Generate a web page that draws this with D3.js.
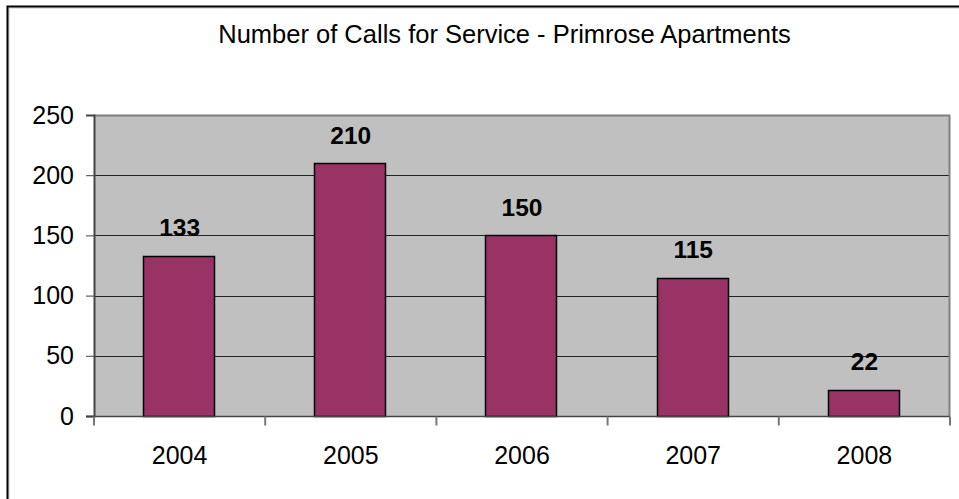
<!DOCTYPE html>
<html><head><meta charset="utf-8">
<script src="https://cdn.jsdelivr.net/npm/d3@7"></script>
<style>body{margin:0;background:#fff}svg{display:block}</style>
</head><body>
<svg id="c" width="959" height="499"></svg>
<script>
const title = "Number of Calls for Service - Primrose Apartments";
const categories = ["2004","2005","2006","2007","2008"];
const calls = [133, 210, 150, 115, 22];
const yTicks = [0, 50, 100, 150, 200, 250];

const svg = d3.select("#c");
const W = 959, H = 499;
const m = {l: 94, r: 959 - 950, t: 115, b: 499 - 416};
const font = "'Liberation Sans', Arial, sans-serif";

// outer chart border (cropped at right/bottom)
svg.append("rect").attr("x", 9).attr("y", 8).attr("width", 1000).attr("height", 1000)
  .attr("fill", "none").attr("stroke", "#c8c8c8").attr("stroke-width", 1);
svg.append("rect").attr("x", 7.5).attr("y", 6.5).attr("width", 1000).attr("height", 1000)
  .attr("fill", "none").attr("stroke", "#000").attr("stroke-width", 2);

const x = d3.scaleBand().domain(categories).range([m.l, W - m.r]).paddingInner(0.585).paddingOuter(0.2925);
const xb = d3.scaleBand().domain(categories).range([m.l, W - m.r]);
const y = d3.scaleLinear().domain([0, 250]).range([H - m.b, m.t]);

// plot area
svg.append("rect").attr("x", m.l).attr("y", m.t).attr("width", W - m.r - m.l).attr("height", H - m.b - m.t)
  .attr("fill", "#c0c0c0");

// gridlines
svg.append("g").selectAll("line").data(yTicks.filter(d => d > 0 && d < 250)).join("line")
  .attr("x1", m.l).attr("x2", W - m.r)
  .attr("y1", d => Math.round(y(d)) + 0.5).attr("y2", d => Math.round(y(d)) + 0.5)
  .attr("stroke", "#222").attr("stroke-width", 1);

// plot border top/right
svg.append("path")
  .attr("d", `M${m.l},${m.t + 0.5}H${W - m.r - 0.5}V${H - m.b}`)
  .attr("fill", "none").attr("stroke", "#808080").attr("stroke-width", 2);

// bars
svg.append("g").selectAll("rect").data(calls).join("rect")
  .attr("x", (d, i) => Math.round(x(categories[i])) - 0.5)
  .attr("y", d => Math.round(y(d)) + 0.5)
  .attr("width", Math.round(x.bandwidth()))
  .attr("height", d => Math.round(y(0)) - Math.round(y(d)))
  .attr("fill", "#993366").attr("stroke", "#000").attr("stroke-width", 1.5);

// value labels
svg.append("g").selectAll("text").data(calls).join("text")
  .attr("x", (d, i) => x(categories[i]) + x.bandwidth() / 2)
  .attr("y", d => y(d) - 19.5)
  .attr("text-anchor", "middle")
  .attr("font-family", font).attr("font-weight", "bold").attr("font-size", 24.5)
  .attr("fill", "#000").text(d => d);

// y axis
const ya = svg.append("g").attr("transform", `translate(${m.l},0)`)
  .call(d3.axisLeft(y).tickValues(yTicks).tickSize(8).tickPadding(12));
ya.select(".domain").attr("stroke", "#444").attr("stroke-width", 2);
ya.selectAll(".tick line").attr("stroke", "#444");
ya.selectAll("text").attr("font-family", font).attr("font-size", 25).attr("fill", "#000");

// x axis
const xa = svg.append("g").attr("transform", `translate(0,${Math.round(y(0)) + 0.5})`);
xa.append("line").attr("x1", m.l - 8).attr("x2", W - m.r).attr("stroke", "#444").attr("stroke-width", 1.5);
const bounds = [m.l].concat(categories.map(c => xb(c) + xb.bandwidth()));
xa.selectAll("line.tk").data(bounds).join("line").attr("class", "tk")
  .attr("x1", d => d).attr("x2", d => d).attr("y1", 0).attr("y2", 9)
  .attr("stroke", "#777").attr("stroke-width", 2);
xa.selectAll("text").data(categories).join("text")
  .attr("x", d => xb(d) + xb.bandwidth() / 2).attr("y", 47)
  .attr("text-anchor", "middle")
  .attr("font-family", font).attr("font-size", 25).attr("fill", "#000").text(d => d);

// title
svg.append("text").attr("x", 504.5).attr("y", 43).attr("text-anchor", "middle")
  .attr("font-family", font).attr("font-size", 25.5).attr("fill", "#000").text(title);
</script>
</body></html>
